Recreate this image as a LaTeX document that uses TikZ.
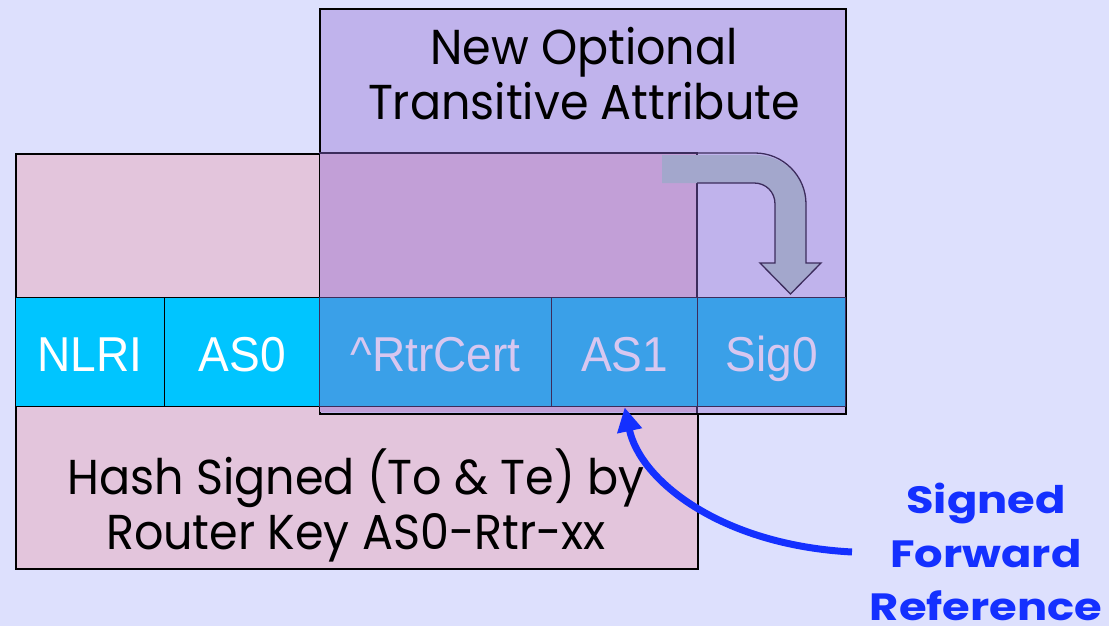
\documentclass[tikz,border=0pt]{standalone}
\usepackage{fontspec}
\usetikzlibrary{arrows.meta}
\setmainfont{Liberation Sans}
\newfontfamily\comic[FakeStretch=0.94]{Poppins}
\newfontfamily\comicbold[FakeStretch=1.18]{Poppins Bold}
\newfontfamily\cellfont[FakeStretch=0.94]{Liberation Sans}
\definecolor{bgc}{HTML}{DDE0FD}
\definecolor{pinkc}{HTML}{E3C5DC}
\definecolor{purplec}{HTML}{C0B3EC}
\definecolor{overlapc}{HTML}{C29FD7}
\definecolor{cyanc}{HTML}{00C5FF}
\definecolor{bluec}{HTML}{3AA0E8}
\definecolor{celltxt}{HTML}{D7C7F0}
\definecolor{arrowc}{HTML}{A3A7CC}
\definecolor{darkline}{HTML}{3C2C5C}
\definecolor{refblue}{HTML}{1430FF}
\begin{document}
\begin{tikzpicture}[x=1pt,y=-1pt,
  box/.style={draw=black,line width=1.6pt,anchor=north west,inner sep=0pt,minimum height=#1},
  cellbase/.style={line width=1.4pt,font=\cellfont\fontsize{49}{52}\selectfont,anchor=north west,inner sep=0pt,minimum height=109pt,text height=39pt,text depth=0pt},
  cellA/.style={cellbase,draw=black,fill=cyanc,text=white},
  cellB/.style={cellbase,draw=darkline,fill=bluec,text=celltxt},
  comictext/.style={font=\comic\fontsize{49}{55}\selectfont,align=center,text=black},
  reftext/.style={font=\comicbold\fontsize{38}{53.5}\selectfont,align=center,text=refblue}]
\useasboundingbox (0,0) rectangle (1109,626);
\fill[bgc] (0,0) rectangle (1109,626);
% pink box
\node[box=415pt,fill=pinkc,minimum width=682pt] (pink) at (15,153) {};
% purple box
\node[box=405pt,fill=purplec,minimum width=526pt] (purple) at (319,8) {};
% overlap region
\fill[overlapc] (319.8,153.8) rectangle (697,412.2);
\draw[darkline,line width=1.4pt] (319,153) -- (697,153) -- (697,297);
\draw[darkline,line width=1.4pt] (697,406) -- (697,413);
% cells
\node[cellA,minimum width=149pt] (nlri) at (15,297) {NLRI};
\node[cellA,minimum width=155pt] (as0) at (164,297) {AS0};
\node[cellB,minimum width=232pt] (rtr) at (319,297) {\textasciicircum RtrCert};
\node[cellB,minimum width=146pt] (as1) at (551,297) {AS1};
\node[cellB,minimum width=148pt] (sig) at (697,297) {Sig0};
% bent arrow
\fill[arrowc] (662,155) -- (755,155) .. controls (783,155) and (806,176) .. (806,204) -- (806,263) -- (821,263) -- (790.5,294) -- (760,263) -- (775,263) -- (775,204) .. controls (775,192) and (766,183) .. (754,183) -- (662,183) -- cycle;
\draw[darkline,line width=1.3pt,line join=miter] (697,153) -- (755,153) .. controls (783,153) and (806,176) .. (806,204) -- (806,263) -- (821,263) -- (790.5,294) -- (760,263) -- (775,263) -- (775,204) .. controls (775,192) and (766,183) .. (754,183) -- (697,183);
% texts
\node[comictext] (title) at (584,74) {New Optional\\Transitive Attribute};
\node[comictext] (hash) at (356,505) {Hash Signed (To \& Te) by\\Router Key AS0-Rtr-xx};
\node[reftext] (sfr) at (986,552) {Signed\\Forward\\Reference};
% curved arrow
\coordinate (cstart) at (852,552);
\draw[refblue,line width=7pt,-{Triangle[length=24pt,width=24pt]}] (cstart) .. controls (720,545) and (640,480) .. (as1.south);
\end{tikzpicture}
\end{document}
